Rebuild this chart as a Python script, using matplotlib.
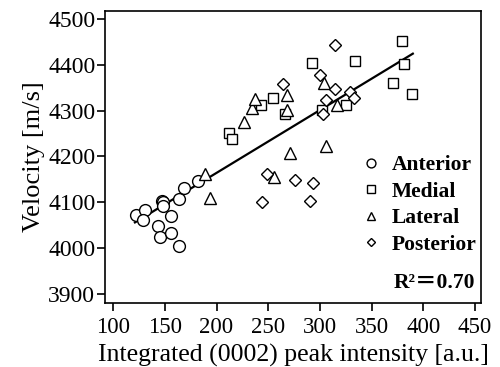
#!/usr/bin/env python3
"""
Velocity vs integrated (0002) peak intensity, four regions
Generates: out.png
"""
import matplotlib
matplotlib.use('Agg')
import matplotlib.pyplot as plt

plt.rcParams['font.family'] = ['Liberation Serif', 'DejaVu Serif']
plt.rcParams['mathtext.fontset'] = 'stix'

# Data
anterior_x = [122, 131, 129, 143, 145, 147, 148, 148, 156, 156, 164, 164, 168, 182]
anterior_y = [4073, 4084, 4061, 4049, 4025, 4103, 4100, 4092, 4069, 4033, 4005, 4106, 4130, 4147]

medial_x = [212, 215, 243, 255, 266, 292, 302, 325, 334, 371, 380, 381, 389]
medial_y = [4252, 4239, 4313, 4327, 4293, 4403, 4302, 4313, 4407, 4361, 4451, 4402, 4337]

lateral_x = [189, 194, 227, 234, 237, 256, 268, 268, 271, 304, 306, 317]
lateral_y = [4161, 4110, 4274, 4306, 4325, 4156, 4333, 4302, 4208, 4361, 4222, 4311]

posterior_x = [244, 249, 264, 276, 290, 293, 300, 303, 306, 315, 315, 329, 333]
posterior_y = [4100, 4162, 4357, 4149, 4103, 4141, 4377, 4293, 4324, 4442, 4348, 4340, 4328]

# regression line end points
fit_x = [121, 390]
fit_y = [4056, 4424]

fig = plt.figure(figsize=(5.0, 3.67), dpi=100)
ax = fig.add_axes([0.21, 0.174, 0.752, 0.796])

style = dict(linestyle='none', markerfacecolor='white', markeredgecolor='black',
             markeredgewidth=1.0)
ax.plot(anterior_x, anterior_y, marker='o', markersize=8.5, label='Anterior', **style)
ax.plot(medial_x, medial_y, marker='s', markersize=7.5, label='Medial', **style)
ax.plot(lateral_x, lateral_y, marker='^', markersize=8, label='Lateral', **style)
ax.plot(posterior_x, posterior_y, marker='D', markersize=6, label='Posterior', **style)

ax.plot(fit_x, fit_y, color='black', linewidth=1.6, zorder=1)

ax.set_xlim(92, 456)
ax.set_ylim(3880, 4517)
ax.set_xticks([100, 150, 200, 250, 300, 350, 400, 450])
ax.set_yticks([3900, 4000, 4100, 4200, 4300, 4400, 4500])

ax.set_xlabel('Integrated (0002) peak intensity [a.u.]', fontsize=18.5, labelpad=4)
ax.set_ylabel('Velocity [m/s]', fontsize=19, labelpad=2)
ax.tick_params(axis='both', direction='out', length=6, width=1.2, pad=1)
ax.tick_params(axis='y', labelsize=17)
ax.tick_params(axis='x', labelsize=16.5, pad=4)
for spine in ax.spines.values():
    spine.set_linewidth(1.2)

leg = ax.legend(loc='lower right', bbox_to_anchor=(1.0, 0.15), frameon=False,
                prop={'weight': 'bold', 'size': 15.5}, markerscale=0.75,
                handlelength=0.9, handletextpad=0.5, labelspacing=0.3,
                borderaxespad=0.1, borderpad=0.1)

ax.text(0.985, 0.035, 'R²＝0.70', transform=ax.transAxes, ha='right', va='bottom',
        fontsize=15.5, fontweight='bold',
        family=['Liberation Serif', 'Noto Sans CJK JP'])

fig.savefig('out.png', dpi=100)
